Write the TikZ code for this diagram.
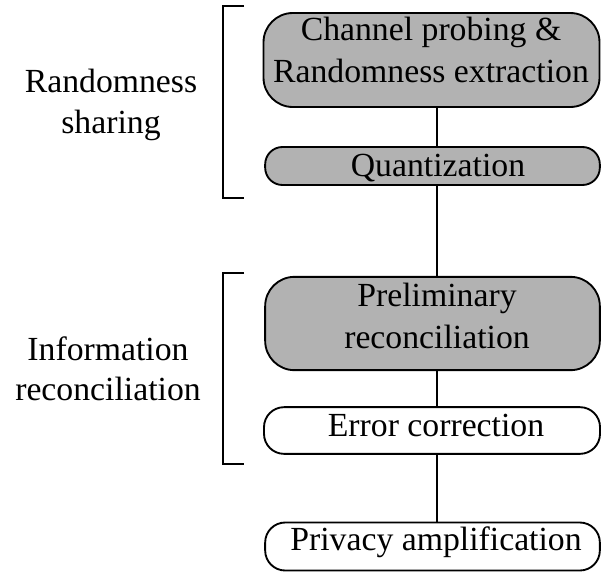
\documentclass[tikz,border=0pt]{standalone}
\usepackage{fontspec}
\setmainfont{Liberation Serif}
\begin{document}
\begin{tikzpicture}[x=0.75pt,y=-0.75pt,
  stage/.style={draw=black, line width=1.4pt, rectangle, inner sep=0pt},
  shaded/.style={stage, fill=black!30},
  plain/.style={stage, fill=white},
  txt/.style={font=\fontsize{25.3}{30}\selectfont, inner sep=0pt, align=center},
  link/.style={line width=1.1pt},
  brace/.style={line width=1.4pt}]
\useasboundingbox (0,0) rectangle (602,572);
% boxes
\node[shaded, rounded corners=22pt, minimum width=252pt, minimum height=70.5pt] (b1) at (431.5,60) {};
\node[shaded, rounded corners=13pt, minimum width=251pt, minimum height=28.5pt] (b2) at (432.5,166) {};
\node[shaded, rounded corners=22pt, minimum width=251pt, minimum height=70pt] (b3) at (432.5,323.5) {};
\node[plain, rounded corners=15pt, minimum width=252pt, minimum height=35pt] (b4) at (432,430.5) {};
\node[plain, rounded corners=15pt, minimum width=251pt, minimum height=36pt] (b5) at (432.5,546.5) {};
% texts
\node[txt, anchor=base] (t1a) at (431,40) {Channel probing \&};
\node[txt, anchor=base] (t1b) at (431,82) {Randomness extraction};
\node[txt, anchor=base] (t2) at (438,176) {Quantization};
\node[txt, anchor=base] (t3a) at (437,306) {Preliminary};
\node[txt, anchor=base] (t3b) at (437,348) {reconciliation};
\node[txt, anchor=base] (t4) at (436,436) {Error correction};
\node[txt, anchor=base] (t5) at (436,550) {Privacy amplification};
% side labels
\node[txt, anchor=base] (l1a) at (111,92) {Randomness};
\node[txt, anchor=base] (l1b) at (111,133) {sharing};
\node[txt, anchor=base] (l2a) at (108,360) {Information};
\node[txt, anchor=base] (l2b) at (108,400) {reconciliation};
% connectors
\coordinate (cx) at (437,0);
\draw[link] (b1.south -| cx) -- (b2.north -| cx);
\draw[link] (b2.south -| cx) -- (b3.north -| cx);
\draw[link] (b3.south -| cx) -- (b4.north -| cx);
\draw[link] (b4.south -| cx) -- (b5.north -| cx);
% brackets
\draw[brace] (244,6) -- (223,6) -- (223,198) -- (244,198);
\draw[brace] (244,273) -- (223,273) -- (223,464) -- (244,464);
\end{tikzpicture}
\end{document}
